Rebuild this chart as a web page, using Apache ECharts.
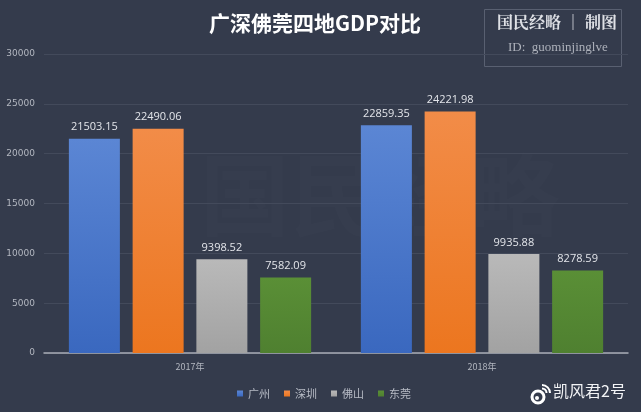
<!DOCTYPE html>
<html>
<head>
<meta charset="utf-8">
<script src="https://cdn.jsdelivr.net/npm/echarts@6/dist/echarts.min.js"></script>
<style>
  html, body { margin: 0; padding: 0; background: #343b4c; }
  #main { width: 641px; height: 412px; }
</style>
</head>
<body>
<div id="main"></div>
<script>
  // 数据
  const years = ['2017年', '2018年']
  const cities = ['广州', '深圳', '佛山', '东莞']
  const guangzhou = [21503.15, 22859.35]
  const shenzhen = [22490.06, 24221.98]
  const foshan = [9398.52, 9935.88]
  const dongguan = [7582.09, 8278.59]
  const yTicks = [0, 5000, 10000, 15000, 20000, 25000, 30000]

  const seriesData = [guangzhou, shenzhen, foshan, dongguan]
  const colors = [
    ['#5b86d4', '#3a68bf'],
    ['#f28c48', '#ec761f'],
    ['#b9b9b9', '#a2a2a2'],
    ['#5a8f36', '#4f8030']
  ]

  const myChart = echarts.init(document.getElementById('main'))

  const option = {
    backgroundColor: '#343b4c',
    color: colors.map(c => c[1]),
    title: {
      text: '广深佛莞四地GDP对比',
      left: 310,
      top: 8,
      textAlign: 'center',
      textStyle: {
        color: '#ffffff',
        fontSize: 21,
        fontWeight: 'bold',
        fontFamily: 'Noto Sans CJK SC'
      }
    },
    legend: {
      data: cities,
      bottom: 8,
      left: 232,
      itemWidth: 6,
      itemHeight: 6,
      itemGap: 14,
      icon: 'rect',
      textStyle: {
        color: '#b8bcc6',
        fontSize: 11,
        fontFamily: 'Noto Sans CJK SC'
      }
    },
    grid: {
      left: 44,
      right: 13,
      top: 54,
      bottom: 59
    },
    xAxis: {
      type: 'category',
      data: years,
      axisLine: { lineStyle: { color: '#a9adb6', width: 1.5 } },
      axisTick: { show: false },
      axisLabel: {
        color: '#b3b7c0',
        fontSize: 9,
        margin: 9,
        fontFamily: 'Noto Sans CJK SC'
      }
    },
    yAxis: {
      type: 'value',
      min: yTicks[0],
      max: yTicks[yTicks.length - 1],
      interval: 5000,
      axisLine: { show: false },
      axisTick: { show: false },
      splitLine: { lineStyle: { color: '#434a5b', width: 1 } },
      axisLabel: {
        color: '#b3b7c0',
        fontSize: 9,
        margin: 9,
        fontFamily: 'DejaVu Sans',
        formatter: v => String(v)
      }
    },
    series: cities.map((name, i) => ({
      name: name,
      type: 'bar',
      data: seriesData[i],
      barWidth: 51,
      barGap: '25%',
      itemStyle: {
        color: new echarts.graphic.LinearGradient(0, 0, 0, 1, [
          { offset: 0, color: colors[i][0] },
          { offset: 1, color: colors[i][1] }
        ])
      },
      label: {
        show: true,
        position: 'top',
        distance: 6,
        color: '#e3e5ea',
        fontSize: 11,
        fontFamily: 'Open Sans',
        formatter: p => p.value.toFixed(2)
      }
    })),
    graphic: [
      // 右上角 标识框
      {
        type: 'rect',
        left: 482,
        top: 7,
        shape: { width: 137, height: 57 },
        style: { fill: 'none', stroke: '#596071', lineWidth: 1 }
      },
      {
        type: 'text',
        left: 497,
        top: 14,
        style: {
          text: '国民经略 │ 制图',
          fill: '#dfe1e6',
          font: 'bold 16px "Noto Serif CJK SC", "Noto Sans CJK SC", serif'
        }
      },
      {
        type: 'text',
        left: 508,
        top: 41,
        style: {
          text: 'ID:  guominjinglve',
          fill: '#aeb2bb',
          font: '13px "Liberation Serif", "DejaVu Serif", serif'
        }
      },
      // 中间淡水印
      {
        type: 'text',
        left: 200,
        top: 150,
        z: -1,
        style: {
          text: '国民经略',
          fill: 'rgba(255,255,255,0.012)',
          font: 'bold 90px "Noto Sans CJK SC"'
        }
      },
      // 右下角 微博水印
      {
        type: 'circle',
        shape: { cx: 538, cy: 397, r: 6 },
        style: { fill: 'none', stroke: '#ffffff', lineWidth: 3 }
      },
      {
        type: 'circle',
        shape: { cx: 537, cy: 398, r: 2 },
        style: { fill: '#ffffff' }
      },
      {
        type: 'arc',
        shape: { cx: 542, cy: 393, r: 4.5, startAngle: -Math.PI / 2, endAngle: 0 },
        style: { fill: 'none', stroke: '#ffffff', lineWidth: 2 }
      },
      {
        type: 'arc',
        shape: { cx: 542, cy: 393, r: 8, startAngle: -Math.PI / 2, endAngle: 0 },
        style: { fill: 'none', stroke: '#ffffff', lineWidth: 2 }
      },
      {
        type: 'text',
        left: 553,
        top: 383,
        style: {
          text: '凯风君2号',
          fill: '#f2f3f5',
          font: '16px "Noto Sans CJK SC"'
        }
      }
    ]
  }

  myChart.setOption(option)
</script>
</body>
</html>
